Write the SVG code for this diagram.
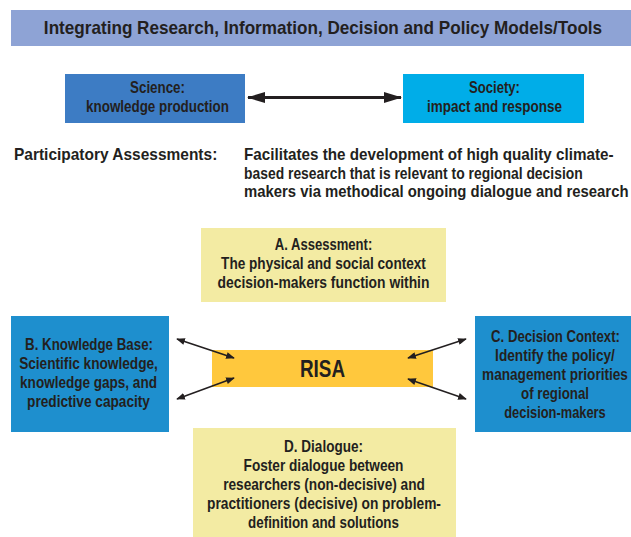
<svg xmlns="http://www.w3.org/2000/svg" width="631" height="537" viewBox="0 0 631 537">
  <style>
    text { font-family: "Liberation Sans", Arial, sans-serif; font-weight: bold; fill: #231f20; }
    .c { text-anchor: middle; }
    .t { font-size: 18px; }
    .m { font-size: 16.5px; }
    .p { font-size: 17px; }
    .risa { font-size: 23px; }
    .link { stroke: #231f20; stroke-width: 1.5; fill: none; marker-start: url(#tip); marker-end: url(#tip); }
  </style>
  <defs>
    <marker id="tip" viewBox="0 0 10 8" refX="9" refY="4" markerWidth="9" markerHeight="7" markerUnits="userSpaceOnUse" orient="auto-start-reverse">
      <path d="M0,0 L10,4 L0,8 Z" fill="#231f20"/>
    </marker>
    <marker id="bigtip" viewBox="0 0 18 11" refX="17" refY="5.5" markerWidth="18" markerHeight="11" markerUnits="userSpaceOnUse" orient="auto-start-reverse">
      <path d="M0,0 L18,5.5 L0,11 Z" fill="#231f20"/>
    </marker>
  </defs>

  <!-- heading bar; condensed lettering is made by narrowing each line horizontally -->
  <g id="title">
    <rect x="11" y="10" width="625" height="36" fill="#8ea3d5"/>
    <text class="t c" transform="translate(323 34) scale(0.952 1)">Integrating Research, Information, Decision and Policy Models/Tools</text>
  </g>

  <g id="science">
    <rect x="65" y="74" width="180" height="49" fill="#3d7cc4"/>
    <text class="m c" transform="translate(157.5 93) scale(0.81 1)">Science:</text>
    <text class="m c" transform="translate(157.5 112) scale(0.812 1)">knowledge production</text>
  </g>

  <g id="society">
    <rect x="403" y="74" width="181" height="49" fill="#00ade8"/>
    <text class="m c" transform="translate(494.5 93) scale(0.794 1)">Society:</text>
    <text class="m c" transform="translate(494.5 112) scale(0.818 1)">impact and response</text>
  </g>

  <g id="participatory">
    <text class="p" transform="translate(14 160) scale(0.911 1)">Participatory Assessments:</text>
    <text class="p" transform="translate(244 160) scale(0.896 1)">Facilitates the development of high quality climate-</text>
    <text class="p" transform="translate(244 178.5) scale(0.817 1)">based research that is relevant to regional decision</text>
    <text class="p" transform="translate(244 197) scale(0.876 1)">makers via methodical ongoing dialogue and research</text>
  </g>

  <g id="assessment">
    <rect x="201" y="228" width="245" height="74" fill="#f3eba3"/>
    <text class="m c" transform="translate(323.5 250) scale(0.792 1)">A. Assessment:</text>
    <text class="m c" transform="translate(323.5 269) scale(0.825 1)">The physical and social context</text>
    <text class="m c" transform="translate(323.5 288) scale(0.841 1)">decision-makers function within</text>
  </g>

  <g id="knowledge-base">
    <rect x="11" y="316" width="158" height="116" fill="#1e8fce"/>
    <text class="m c" transform="translate(89 350) scale(0.807 1)">B. Knowledge Base:</text>
    <text class="m c" transform="translate(88.5 369) scale(0.828 1)">Scientific knowledge,</text>
    <text class="m c" transform="translate(88.5 388) scale(0.821 1)">knowledge gaps, and</text>
    <text class="m c" transform="translate(88.5 407) scale(0.828 1)">predictive capacity</text>
  </g>

  <g id="decision-context">
    <rect x="475" y="316" width="161" height="116" fill="#1e8fce"/>
    <text class="m c" transform="translate(555.5 342) scale(0.799 1)">C. Decision Context:</text>
    <text class="m c" transform="translate(555 361) scale(0.828 1)">Identify the policy/</text>
    <text class="m c" transform="translate(555 380) scale(0.825 1)">management priorities</text>
    <text class="m c" transform="translate(555 399) scale(0.806 1)">of regional</text>
    <text class="m c" transform="translate(555 418) scale(0.78 1)">decision-makers</text>
  </g>

  <g id="risa">
    <rect x="212" y="350" width="221" height="37" fill="#ffc83d"/>
    <text class="risa c" transform="translate(322.5 376.5) scale(0.82 1)">RISA</text>
  </g>

  <g id="dialogue">
    <rect x="193" y="428" width="263" height="112" fill="#f3eba3"/>
    <text class="m c" transform="translate(323.5 452) scale(0.82 1)">D. Dialogue:</text>
    <text class="m c" transform="translate(323.5 471) scale(0.827 1)">Foster dialogue between</text>
    <text class="m c" transform="translate(324 490) scale(0.828 1)">researchers (non-decisive) and</text>
    <text class="m c" transform="translate(324 509) scale(0.834 1)">practitioners (decisive) on problem-</text>
    <text class="m c" transform="translate(323.5 528) scale(0.811 1)">definition and solutions</text>
  </g>

  <!-- connectors -->
  <g id="connectors">
    <line x1="248" y1="97.5" x2="401" y2="97.5" stroke="#231f20" stroke-width="3" marker-start="url(#bigtip)" marker-end="url(#bigtip)"/>
    <line class="link" x1="177" y1="339" x2="234" y2="358"/>
    <line class="link" x1="177" y1="399" x2="234" y2="378"/>
    <line class="link" x1="466" y1="339" x2="408" y2="358"/>
    <line class="link" x1="408" y1="379" x2="466" y2="399"/>
  </g>
</svg>
